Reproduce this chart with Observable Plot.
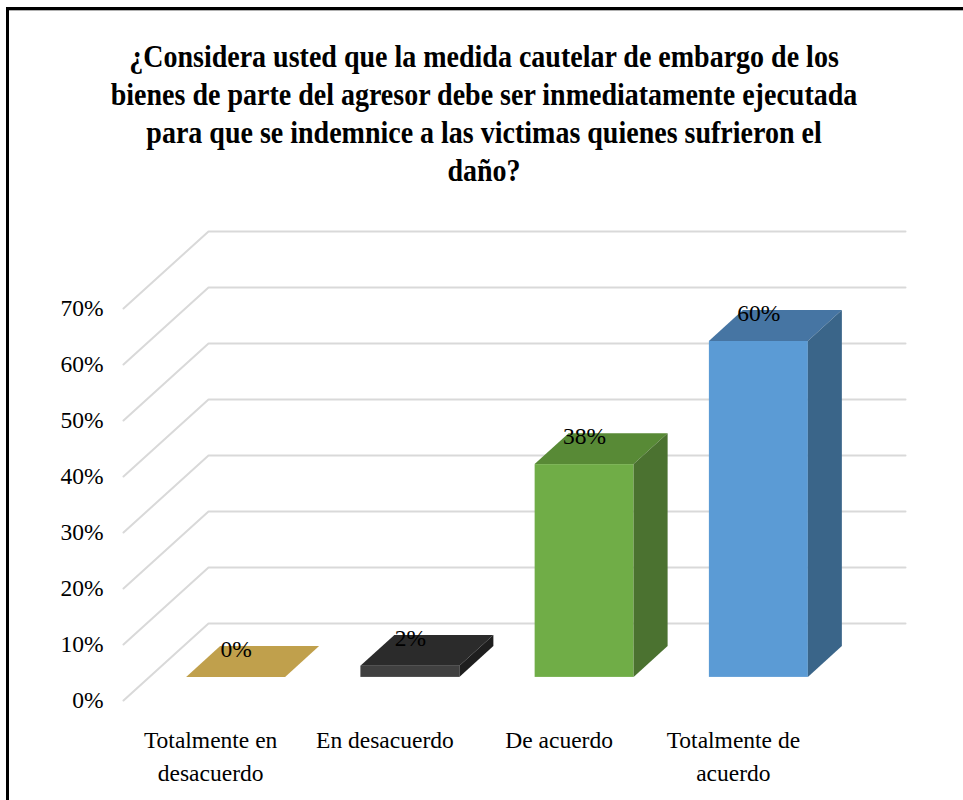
<!DOCTYPE html>
<html><head><meta charset="utf-8">
<script src="https://cdn.jsdelivr.net/npm/d3@7"></script>
<script src="https://cdn.jsdelivr.net/npm/@observablehq/plot@0.6"></script>
<style>
body{margin:0;background:#fff;width:963px;height:800px;overflow:hidden;position:relative;font-family:"Liberation Serif","Times New Roman",serif;}
#frame{position:absolute;left:6px;top:7px;width:1000px;height:900px;border-left:3px solid #000;border-top:3px solid #000;}
#frame2{position:absolute;left:9px;top:10px;width:1000px;height:900px;border-top:1px solid #b0b0b0;}
#title{position:absolute;left:6px;width:956px;top:38px;text-align:center;font-weight:bold;font-size:28px;line-height:38px;color:#000;z-index:2;}
#title div{transform:scaleY(1.13);transform-origin:50% 60%;}
#chart{position:absolute;left:0;top:0;}
</style></head><body>
<div id="frame"></div>
<div id="frame2"></div>
<div id="chart"></div>
<div id="title"></div>
<script>
const titleLines = [
  "¿Considera usted que la medida cautelar de embargo de los",
  "bienes de parte del agresor debe ser inmediatamente ejecutada",
  "para que se indemnice a las victimas quienes sufrieron el",
  "daño?"
];
const categories = ["Totalmente en desacuerdo", "En desacuerdo", "De acuerdo", "Totalmente de acuerdo"];
const categoryLabels = ["Totalmente en\ndesacuerdo", "En desacuerdo", "De acuerdo", "Totalmente de\nacuerdo"];
const values = [0, 2, 38, 60];
const valueLabels = ["0%", "2%", "38%", "60%"];
const yTicks = [0, 10, 20, 30, 40, 50, 60, 70];
const frontColors = ["#C9A953", "#404040", "#70AD47", "#5B9BD5"];
const topColors = ["#C0A04C", "#2B2B2B", "#588A36", "#4675A3"];
const sideColors = ["#9A7F3A", "#1E1E1E", "#4B7230", "#3A6589"];

const titleEl = document.getElementById("title");
titleLines.forEach(t => { const d = document.createElement("div"); d.textContent = t; titleEl.appendChild(d); });

// oblique 3D projection expressed in data units
const DX = 85 / 174.25, DY = 77 / 5.6, D0 = 0.3, D1 = 0.7, HW = 0.284;
const bars = categories.map((c, i) => ({i, c, v: values[i], label: valueLabels[i], tick: categoryLabels[i], xl: i - HW, xr: i + HW}));
const front = bars.map(b => ({i: b.i, x1: b.xl + D0 * DX, x2: b.xr + D0 * DX, y1: D0 * DY, y2: b.v + D0 * DY, fill: frontColors[b.i]}));
const topF = bars.flatMap(b => [D0, D1].map(d => ({i: b.i, y: b.v + d * DY, xa: b.xl + d * DX, xb: b.xr + d * DX, fill: topColors[b.i]})));
const side = bars.flatMap(b => [D0, D1].map(d => ({i: b.i, x: b.xr + d * DX, ya: d * DY, yb: b.v + d * DY, fill: sideColors[b.i]})));
const grid = yTicks.flatMap(t => [{t, x: -0.5, y: t}, {t, x: -0.5 + DX, y: t + DY}, {t, x: 3.5 + DX, y: t + DY}]);

const chart = Plot.plot({
  width: 963, height: 800,
  marginLeft: 123, marginRight: 58, marginTop: 231, marginBottom: 100,
  x: {type: "linear", domain: [-0.5, 3.5 + DX], axis: null},
  y: {domain: [0, 70 + DY]},
  color: {type: "identity"},
  style: {fontFamily: '"Liberation Serif", "Times New Roman", serif', fontSize: "23.5px", background: "transparent", color: "#000"},
  marks: [
    Plot.line(grid, {x: "x", y: "y", z: "t", stroke: "#d9d9d9", strokeWidth: 2}),
    Plot.rect(front, {x1: "x1", x2: "x2", y1: "y1", y2: "y2", fill: "fill"}),
    Plot.areaX(topF, {y: "y", x1: "xa", x2: "xb", z: "i", fill: "fill"}),
    Plot.areaY(side, {x: "x", y1: "ya", y2: "yb", z: "i", fill: "fill"}),
    Plot.axisY({ticks: yTicks, tickFormat: d => d + "%", tickSize: 0, tickPadding: 20, fontSize: 23.5, label: null}),
    Plot.text(bars, {x: "i", y: () => 0, text: "tick", lineAnchor: "top", dy: 24.5, lineHeight: 1.4, fontSize: 23.5, fill: "#000"}),
    Plot.text(bars, {x: b => b.i + D0 * DX, y: b => b.v + D1 * DY, text: "label", fontSize: 23.5, dy: 3, fill: "#000"})
  ]
});
document.getElementById("chart").appendChild(chart);
</script>
</body></html>
